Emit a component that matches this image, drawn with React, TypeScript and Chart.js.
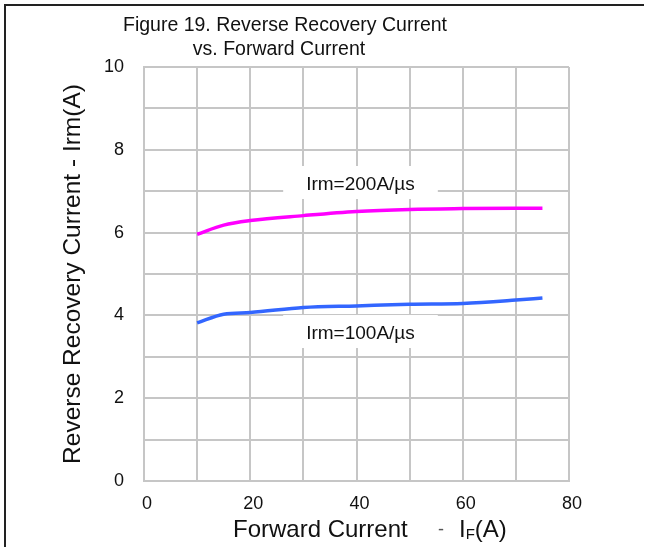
import { useEffect, useRef } from 'react';
import { Chart, registerables } from 'chart.js';

Chart.register(...registerables);

const forwardCurrent = [10, 15, 20, 30, 40, 50, 60, 70, 75];
const irm200 = [5.96, 6.18, 6.29, 6.41, 6.51, 6.56, 6.58, 6.59, 6.59];
const irm100 = [3.82, 4.03, 4.07, 4.19, 4.23, 4.27, 4.29, 4.37, 4.42];
const seriesNames = ['Irm=200A/µs', 'Irm=100A/µs'];
const xTickLabels = [0, 20, 40, 60, 80];
const yTickLabels = [0, 2, 4, 6, 8, 10];
const titleLines = ['Figure 19. Reverse Recovery Current', 'vs. Forward Current'];
const xTitleParts = ['Forward Current', '-', 'I', 'F', '(A)'];
const yTitle = 'Reverse Recovery Current - Irm(A)';

const FONT = '"Liberation Sans", Arial, sans-serif';
const GRID = '#c6c6c6';

const decor = {
  id: 'decor',
  beforeDraw(chart: any) {
    const ctx = chart.ctx;
    ctx.save();
    ctx.fillStyle = '#ffffff';
    ctx.fillRect(0, 0, chart.width, chart.height);
    ctx.restore();
  },
  afterDatasetsDraw(chart: any) {
    const ctx = chart.ctx;
    const xs = chart.scales.x;
    const ys = chart.scales.y;
    const anchors = [
      { x: 40, y: 7.15 },
      { x: 40, y: 3.55 },
    ];
    ctx.save();
    ctx.font = `19px ${FONT}`;
    ctx.textAlign = 'center';
    ctx.textBaseline = 'middle';
    seriesNames.forEach((name, i) => {
      const px = xs.getPixelForValue(anchors[i].x) + 4;
      const py = ys.getPixelForValue(anchors[i].y);
      const w = ctx.measureText(name).width;
      ctx.fillStyle = '#ffffff';
      ctx.fillRect(px - w / 2 - 23, py - 19, w + 46, 33);
      ctx.fillStyle = '#111111';
      ctx.fillText(name, px, py);
    });
    ctx.restore();
  },
  afterDraw(chart: any) {
    const ctx = chart.ctx;
    ctx.save();
    // title
    ctx.fillStyle = '#111111';
    ctx.font = `19.5px ${FONT}`;
    ctx.textAlign = 'center';
    ctx.textBaseline = 'alphabetic';
    ctx.fillText(titleLines[0], 285, 31);
    ctx.fillText(titleLines[1], 279, 55);
    // x-axis title with subscript
    ctx.textAlign = 'left';
    const base = 537;
    ctx.font = `24px ${FONT}`;
    let x = 233;
    ctx.fillText(xTitleParts[0], x, base);
    x = 438;
    ctx.fillStyle = '#555555';
    ctx.font = `18px ${FONT}`;
    ctx.fillText(xTitleParts[1], x, base - 2);
    x = 459;
    ctx.fillStyle = '#111111';
    ctx.font = `24px ${FONT}`;
    ctx.fillText(xTitleParts[2], x, base);
    x += ctx.measureText(xTitleParts[2]).width;
    ctx.font = `15px ${FONT}`;
    ctx.fillText(xTitleParts[3], x, base + 2);
    x += ctx.measureText(xTitleParts[3]).width;
    ctx.font = `24px ${FONT}`;
    ctx.fillText(xTitleParts[4], x, base);
    // outer frame (top and left)
    ctx.fillStyle = '#222222';
    ctx.fillRect(4, 4, 640, 2);
    ctx.fillRect(4, 4, 2, chart.height - 4);
    ctx.restore();
  },
};

export default function App() {
  const ref = useRef<HTMLCanvasElement>(null);

  useEffect(() => {
    if (!ref.current) return;
    Chart.defaults.font.family = FONT;
    const chart = new Chart(ref.current, {
      type: 'line',
      data: {
        datasets: [
          {
            label: seriesNames[0],
            data: forwardCurrent.map((v, i) => ({ x: v, y: irm200[i] })),
            borderColor: '#ff00ff',
            borderWidth: 3.5,
            pointRadius: 0,
            cubicInterpolationMode: 'monotone',
            fill: false,
          },
          {
            label: seriesNames[1],
            data: forwardCurrent.map((v, i) => ({ x: v, y: irm100[i] })),
            borderColor: '#3366ff',
            borderWidth: 3.5,
            pointRadius: 0,
            cubicInterpolationMode: 'monotone',
            fill: false,
          },
        ],
      },
      options: {
        animation: false,
        responsive: false,
        layout: { padding: { top: 67, right: 85, bottom: 0, left: 0 } },
        plugins: {
          legend: { display: false },
          tooltip: { enabled: false },
          title: { display: false },
        },
        scales: {
          x: {
            type: 'linear',
            min: 0,
            max: 80,
            afterFit: (s: any) => {
              s.height = 66;
            },
            ticks: {
              stepSize: 10,
              autoSkip: false,
              maxRotation: 0,
              padding: 12,
              labelOffset: 3,
              color: '#111111',
              font: { size: 18 },
              callback: (v: any) => (xTickLabels.includes(Number(v)) ? String(v) : ''),
            },
            grid: { color: GRID, lineWidth: 2, drawTicks: false },
            border: { color: GRID, width: 2 },
          },
          y: {
            type: 'linear',
            min: 0,
            max: 10,
            afterFit: (s: any) => {
              s.width = 144;
            },
            ticks: {
              stepSize: 1,
              autoSkip: false,
              padding: 20,
              color: '#111111',
              font: { size: 18 },
              callback: (v: any) => (yTickLabels.includes(Number(v)) ? String(v) : ''),
            },
            grid: { color: GRID, lineWidth: 2, drawTicks: false },
            border: { color: GRID, width: 2 },
            title: {
              display: true,
              text: yTitle,
              color: '#111111',
              font: { size: 24.5 },
              padding: { top: 59, bottom: 0 },
            },
          },
        },
      },
      plugins: [decor],
    } as any);
    return () => chart.destroy();
  }, []);

  return (
    <div style={{ position: 'absolute', left: 0, top: 0, width: 654, height: 547 }}>
      <canvas ref={ref} width={654} height={547} style={{ display: 'block' }} />
    </div>
  );
}
